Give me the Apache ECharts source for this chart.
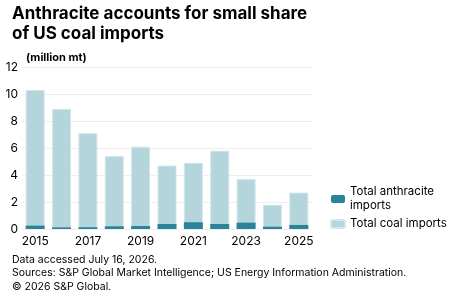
<!DOCTYPE html>
<html><head><meta charset="utf-8">
<script src="https://cdn.jsdelivr.net/npm/echarts@6/dist/echarts.min.js"></script>
<style>html,body{margin:0;padding:0;background:#fff}#c{width:450px;height:296px}</style>
</head><body><div id="c"></div>
<script>
const categories = ['2015','2016','2017','2018','2019','2020','2021','2022','2023','2024','2025'];
const coalImports = [10.3, 8.9, 7.1, 5.4, 6.1, 4.7, 4.9, 5.8, 3.7, 1.8, 2.7];
const anthraciteImports = [0.25, 0.12, 0.13, 0.2, 0.22, 0.37, 0.5, 0.37, 0.47, 0.17, 0.3];
const yTicks = [0, 2, 4, 6, 8, 10, 12];
const font = 'Inter, "Liberation Sans", sans-serif';
const chart = echarts.init(document.getElementById('c'), null, {renderer:'canvas'});
chart.setOption({
  animation:false,
  textStyle:{fontFamily:font},
  title:[
    {text:'Anthracite accounts for small share\nof US coal imports', left:7, top:-1,
     textStyle:{fontFamily:font, fontSize:17, fontWeight:'bold', color:'#000', lineHeight:20}},
    {text:'(million mt)', left:21, top:47, textStyle:{fontFamily:font, fontSize:11, fontWeight:'bold', color:'#000'}},
    {text:'Data accessed July 16, 2026.\nSources: S&P Global Market Intelligence; US Energy Information Administration.\n© 2026 S&P Global.',
     left:7, top:248, textStyle:{fontFamily:font, fontSize:10.5, fontWeight:'normal', color:'#000', lineHeight:13.5}}
  ],
  legend:{orient:'vertical', left:325, top:180, itemWidth:14, itemHeight:8, itemGap:4,
    textStyle:{fontFamily:font, fontSize:11.5, color:'#000', lineHeight:14},
    data:[{name:'Total anthracite\nimports', itemStyle:{color:'#2a8398'}}, {name:'Total coal imports', itemStyle:{color:'#b5d5dd'}}]},
  grid:{left:22, right:138, top:67, bottom:67, containLabel:false},
  xAxis:{type:'category', data:categories,
    axisLine:{show:false}, axisTick:{show:false},
    axisLabel:{interval:1, color:'#000', fontSize:12, fontFamily:font, margin:6}},
  yAxis:{type:'value', min:0, max:12, interval:2,
    axisLine:{show:false}, axisTick:{show:false},
    splitLine:{lineStyle:{color:'#eeeeee', width:1}},
    axisLabel:{color:'#000', fontSize:12, fontFamily:font, margin:4, align:'right',
      formatter:v=>yTicks.includes(v)?String(v):''}},
  series:[
    {name:'Total coal imports', type:'bar', data:coalImports, barCategoryGap:'28%', barGap:'-100%', z:1,
     itemStyle:{color:'#b5d5dd', borderColor:'#d3e6eb', borderWidth:1}},
    {name:'Total anthracite\nimports', type:'bar', data:anthraciteImports, z:2,
     itemStyle:{color:'#2a8398'}}
  ]
});
</script></body></html>
